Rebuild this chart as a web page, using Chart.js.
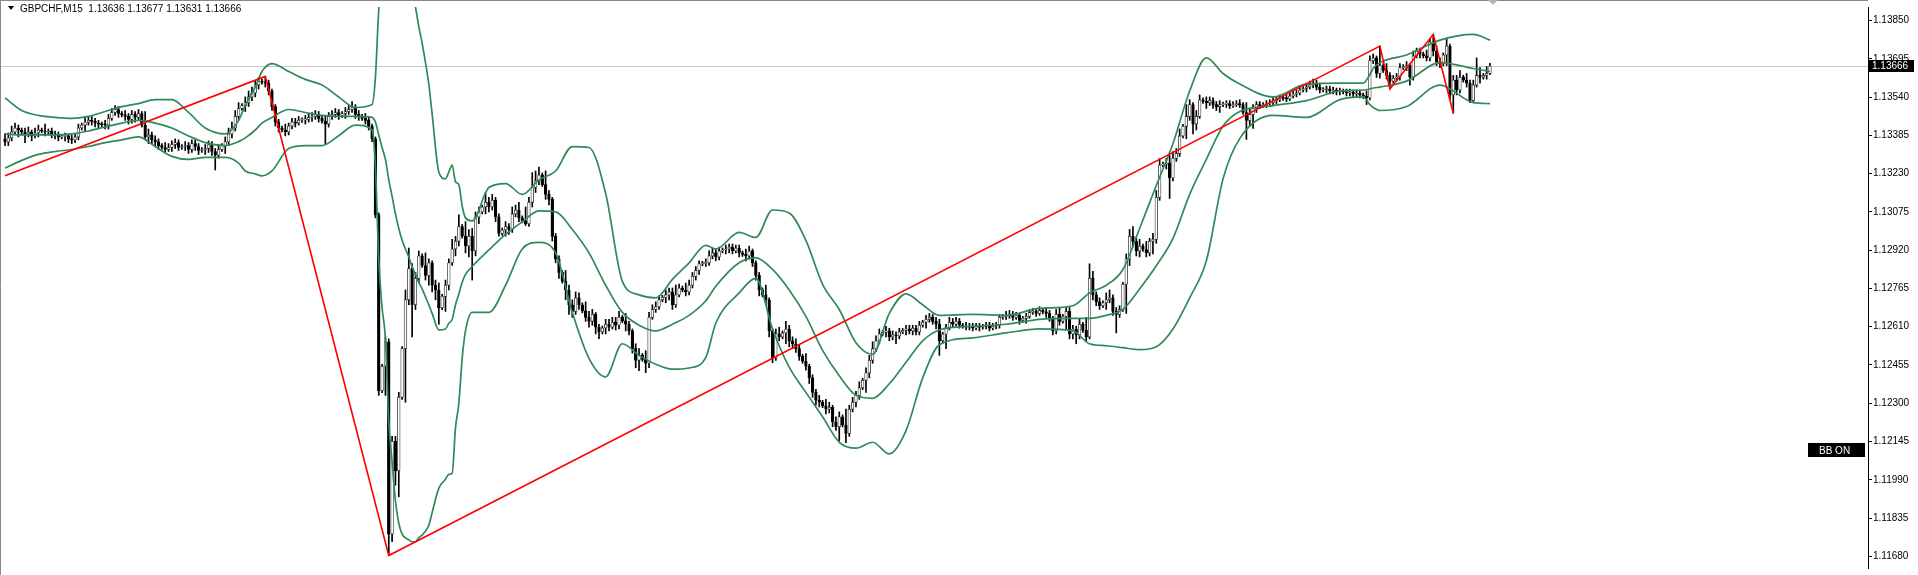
<!DOCTYPE html>
<html><head><meta charset="utf-8">
<script src="https://cdn.jsdelivr.net/npm/chart.js@4/dist/chart.umd.min.js"></script>
<style>html,body{margin:0;padding:0;background:#fff}#wrap{position:relative;width:1918px;height:575px}</style>
</head><body><div id="wrap"><canvas id="c" width="1918" height="575"></canvas></div>
<script>
const title = "GBPCHF,M15  1.13636 1.13677 1.13631 1.13666";
const tickValues = [1.11680,1.11835,1.11990,1.12145,1.12300,1.12455,1.12610,1.12765,1.12920,1.13075,1.13230,1.13385,1.13540,1.13695,1.13850];
const lastPrice = 1.13666;
const closeP = [
1.13359,1.13375,1.13399,1.13415,1.13407,1.13399,1.13391,1.13399,1.13383,1.13395,1.13407,1.13403,
1.13399,1.13403,1.13391,1.13387,1.13379,1.13381,1.13383,1.13371,1.13367,1.13379,1.13415,1.13427,
1.13439,1.13446,1.13442,1.13435,1.13431,1.13429,1.13427,1.13454,1.13478,1.13490,1.13474,1.13468,
1.13462,1.13450,1.13470,1.13458,1.13474,1.13427,1.13379,1.13387,1.13367,1.13359,1.13344,1.13336,
1.13328,1.13336,1.13348,1.13356,1.13336,1.13340,1.13344,1.13328,1.13352,1.13340,1.13324,1.13328,
1.13332,1.13348,1.13320,1.13305,1.13328,1.13344,1.13359,1.13391,1.13415,1.13462,1.13494,1.13506,
1.13518,1.13541,1.13557,1.13589,1.13605,1.13601,1.13597,1.13565,1.13502,1.13439,1.13415,1.13407,
1.13399,1.13423,1.13439,1.13435,1.13446,1.13448,1.13450,1.13458,1.13462,1.13470,1.13454,1.13443,
1.13431,1.13462,1.13470,1.13478,1.13466,1.13474,1.13482,1.13490,1.13498,1.13470,1.13462,1.13454,
1.13446,1.13423,1.13371,1.13063,1.12351,1.12450,1.12549,1.11770,1.12146,1.12027,1.12324,1.12522,
1.12719,1.12846,1.12699,1.12806,1.12897,1.12858,1.12818,1.12869,1.12778,1.12759,1.12687,1.12733,
1.12778,1.12869,1.12925,1.12956,1.13016,1.12977,1.12937,1.12976,1.12917,1.13055,1.13075,1.13095,
1.13114,1.13095,1.13122,1.13055,1.12988,1.13002,1.13016,1.13004,1.13067,1.13083,1.13051,1.13039,
1.13027,1.13114,1.13174,1.13201,1.13225,1.13186,1.13146,1.13126,1.12976,1.12885,1.12830,1.12795,
1.12759,1.12699,1.12672,1.12727,1.12699,1.12674,1.12648,1.12632,1.12660,1.12608,1.12589,1.12605,
1.12620,1.12608,1.12628,1.12616,1.12648,1.12634,1.12620,1.12593,1.12521,1.12474,1.12494,1.12478,
1.12462,1.12648,1.12680,1.12691,1.12719,1.12729,1.12739,1.12751,1.12699,1.12739,1.12767,1.12759,
1.12751,1.12778,1.12814,1.12838,1.12865,1.12867,1.12869,1.12897,1.12909,1.12893,1.12917,1.12921,
1.12925,1.12933,1.12917,1.12929,1.12909,1.12903,1.12897,1.12917,1.12869,1.12818,1.12759,1.12739,
1.12719,1.12593,1.12482,1.12581,1.12569,1.12585,1.12601,1.12553,1.12541,1.12521,1.12490,1.12470,
1.12450,1.12403,1.12344,1.12312,1.12304,1.12290,1.12276,1.12284,1.12225,1.12205,1.12245,1.12212,
1.12178,1.12276,1.12304,1.12332,1.12363,1.12393,1.12423,1.12474,1.12521,1.12553,1.12581,1.12587,
1.12593,1.12569,1.12577,1.12573,1.12589,1.12595,1.12601,1.12593,1.12604,1.12589,1.12616,1.12628,
1.12640,1.12648,1.12632,1.12620,1.12553,1.12580,1.12608,1.12628,1.12620,1.12632,1.12616,1.12612,
1.12608,1.12612,1.12604,1.12612,1.12608,1.12612,1.12616,1.12604,1.12612,1.12616,1.12648,1.12652,
1.12656,1.12660,1.12648,1.12656,1.12636,1.12644,1.12652,1.12668,1.12672,1.12664,1.12676,1.12670,
1.12664,1.12644,1.12593,1.12660,1.12632,1.12652,1.12672,1.12581,1.12601,1.12577,1.12620,1.12595,
1.12569,1.12806,1.12739,1.12711,1.12695,1.12707,1.12719,1.12727,1.12672,1.12660,1.12680,1.12782,
1.12885,1.12976,1.12956,1.12917,1.12937,1.12923,1.12909,1.12956,1.12964,1.13134,1.13265,1.13269,
1.13273,1.13213,1.13292,1.13312,1.13383,1.13422,1.13462,1.13510,1.13431,1.13462,1.13529,1.13523,
1.13518,1.13526,1.13510,1.13502,1.13510,1.13512,1.13514,1.13506,1.13510,1.13514,1.13510,1.13478,
1.13446,1.13470,1.13494,1.13510,1.13506,1.13510,1.13514,1.13518,1.13526,1.13529,1.13537,1.13535,
1.13533,1.13545,1.13553,1.13557,1.13569,1.13575,1.13581,1.13589,1.13597,1.13581,1.13569,1.13571,
1.13573,1.13565,1.13569,1.13561,1.13565,1.13561,1.13557,1.13561,1.13553,1.13557,1.13549,1.13543,
1.13537,1.13688,1.13699,1.13636,1.13668,1.13648,1.13628,1.13605,1.13617,1.13621,1.13660,1.13664,
1.13668,1.13621,1.13707,1.13727,1.13715,1.13707,1.13699,1.13763,1.13727,1.13684,1.13676,1.13711,
1.13747,1.13549,1.13609,1.13569,1.13621,1.13609,1.13597,1.13526,1.13589,1.13628,1.13621,1.13628,
1.13636,1.13666];
const openP = [
1.13371,1.13359,1.13375,1.13399,1.13415,1.13407,1.13399,1.13391,1.13399,1.13383,1.13395,1.13407,
1.13403,1.13399,1.13403,1.13391,1.13387,1.13379,1.13381,1.13383,1.13371,1.13367,1.13379,1.13415,
1.13427,1.13439,1.13446,1.13442,1.13435,1.13431,1.13429,1.13427,1.13454,1.13478,1.13490,1.13474,
1.13468,1.13462,1.13450,1.13470,1.13458,1.13474,1.13427,1.13379,1.13387,1.13367,1.13359,1.13344,
1.13336,1.13328,1.13336,1.13348,1.13356,1.13336,1.13340,1.13344,1.13328,1.13352,1.13340,1.13324,
1.13328,1.13332,1.13348,1.13320,1.13305,1.13328,1.13344,1.13359,1.13391,1.13415,1.13462,1.13494,
1.13506,1.13518,1.13541,1.13557,1.13589,1.13605,1.13601,1.13597,1.13565,1.13502,1.13439,1.13415,
1.13407,1.13399,1.13423,1.13439,1.13435,1.13446,1.13448,1.13450,1.13458,1.13462,1.13470,1.13454,
1.13443,1.13431,1.13462,1.13470,1.13478,1.13466,1.13474,1.13482,1.13490,1.13498,1.13470,1.13462,
1.13454,1.13446,1.13423,1.13371,1.13063,1.12351,1.12450,1.12549,1.11770,1.12146,1.12027,1.12324,
1.12522,1.12719,1.12846,1.12699,1.12806,1.12897,1.12858,1.12818,1.12869,1.12778,1.12759,1.12687,
1.12733,1.12778,1.12869,1.12925,1.12956,1.13016,1.12977,1.12937,1.12976,1.12917,1.13055,1.13075,
1.13095,1.13114,1.13095,1.13122,1.13055,1.12988,1.13002,1.13016,1.13004,1.13067,1.13083,1.13051,
1.13039,1.13027,1.13114,1.13174,1.13201,1.13225,1.13186,1.13146,1.13126,1.12976,1.12885,1.12830,
1.12795,1.12759,1.12699,1.12672,1.12727,1.12699,1.12674,1.12648,1.12632,1.12660,1.12608,1.12589,
1.12605,1.12620,1.12608,1.12628,1.12616,1.12648,1.12634,1.12620,1.12593,1.12521,1.12474,1.12494,
1.12478,1.12462,1.12648,1.12680,1.12691,1.12719,1.12729,1.12739,1.12751,1.12699,1.12739,1.12767,
1.12759,1.12751,1.12778,1.12814,1.12838,1.12865,1.12867,1.12869,1.12897,1.12909,1.12893,1.12917,
1.12921,1.12925,1.12933,1.12917,1.12929,1.12909,1.12903,1.12897,1.12917,1.12869,1.12818,1.12759,
1.12739,1.12719,1.12593,1.12482,1.12581,1.12569,1.12585,1.12601,1.12553,1.12541,1.12521,1.12490,
1.12470,1.12450,1.12403,1.12344,1.12312,1.12304,1.12290,1.12276,1.12284,1.12225,1.12205,1.12245,
1.12212,1.12178,1.12276,1.12304,1.12332,1.12363,1.12393,1.12423,1.12474,1.12521,1.12553,1.12581,
1.12587,1.12593,1.12569,1.12577,1.12573,1.12589,1.12595,1.12601,1.12593,1.12604,1.12589,1.12616,
1.12628,1.12640,1.12648,1.12632,1.12620,1.12553,1.12580,1.12608,1.12628,1.12620,1.12632,1.12616,
1.12612,1.12608,1.12612,1.12604,1.12612,1.12608,1.12612,1.12616,1.12604,1.12612,1.12616,1.12648,
1.12652,1.12656,1.12660,1.12648,1.12656,1.12636,1.12644,1.12652,1.12668,1.12672,1.12664,1.12676,
1.12670,1.12664,1.12644,1.12593,1.12660,1.12632,1.12652,1.12672,1.12581,1.12601,1.12577,1.12620,
1.12595,1.12569,1.12806,1.12739,1.12711,1.12695,1.12707,1.12719,1.12727,1.12672,1.12660,1.12680,
1.12782,1.12885,1.12976,1.12956,1.12917,1.12937,1.12923,1.12909,1.12956,1.12964,1.13134,1.13265,
1.13269,1.13273,1.13213,1.13292,1.13312,1.13383,1.13422,1.13462,1.13510,1.13431,1.13462,1.13529,
1.13523,1.13518,1.13526,1.13510,1.13502,1.13510,1.13512,1.13514,1.13506,1.13510,1.13514,1.13510,
1.13478,1.13446,1.13470,1.13494,1.13510,1.13506,1.13510,1.13514,1.13518,1.13526,1.13529,1.13537,
1.13535,1.13533,1.13545,1.13553,1.13557,1.13569,1.13575,1.13581,1.13589,1.13597,1.13581,1.13569,
1.13571,1.13573,1.13565,1.13569,1.13561,1.13565,1.13561,1.13557,1.13561,1.13553,1.13557,1.13549,
1.13543,1.13537,1.13688,1.13699,1.13636,1.13668,1.13648,1.13628,1.13605,1.13617,1.13621,1.13660,
1.13664,1.13668,1.13621,1.13707,1.13727,1.13715,1.13707,1.13699,1.13763,1.13727,1.13684,1.13676,
1.13711,1.13747,1.13549,1.13609,1.13569,1.13621,1.13609,1.13597,1.13526,1.13589,1.13628,1.13621,
1.13628,1.13636];
const highP = [
1.13391,1.13395,1.13423,1.13435,1.13427,1.13415,1.13415,1.13419,1.13407,1.13415,1.13427,1.13415,
1.13431,1.13411,1.13415,1.13403,1.13399,1.13389,1.13395,1.13391,1.13387,1.13391,1.13431,1.13435,
1.13458,1.13462,1.13462,1.13454,1.13446,1.13439,1.13446,1.13470,1.13494,1.13506,1.13502,1.13482,
1.13486,1.13474,1.13486,1.13482,1.13490,1.13482,1.13482,1.13411,1.13399,1.13383,1.13371,1.13352,
1.13356,1.13352,1.13363,1.13371,1.13367,1.13348,1.13360,1.13356,1.13367,1.13367,1.13352,1.13336,
1.13348,1.13363,1.13360,1.13332,1.13348,1.13352,1.13379,1.13415,1.13439,1.13486,1.13518,1.13514,
1.13541,1.13565,1.13581,1.13605,1.13620,1.13613,1.13624,1.13609,1.13573,1.13510,1.13450,1.13423,
1.13431,1.13435,1.13454,1.13454,1.13462,1.13456,1.13466,1.13474,1.13478,1.13486,1.13482,1.13462,
1.13466,1.13478,1.13486,1.13494,1.13490,1.13482,1.13498,1.13506,1.13522,1.13510,1.13486,1.13470,
1.13474,1.13458,1.13431,1.13379,1.13071,1.12458,1.12569,1.12561,1.12166,1.12166,1.12344,1.12530,
1.12759,1.12929,1.12866,1.12830,1.12917,1.12905,1.12909,1.12885,1.12877,1.12799,1.12787,1.12741,
1.12799,1.12885,1.12964,1.12976,1.13063,1.13024,1.13036,1.13004,1.13008,1.13075,1.13095,1.13103,
1.13154,1.13134,1.13146,1.13134,1.13067,1.13010,1.13036,1.13028,1.13095,1.13103,1.13114,1.13059,
1.13095,1.13134,1.13234,1.13241,1.13257,1.13233,1.13241,1.13162,1.13134,1.12988,1.12897,1.12838,
1.12838,1.12779,1.12719,1.12751,1.12747,1.12707,1.12711,1.12672,1.12680,1.12668,1.12620,1.12613,
1.12640,1.12640,1.12648,1.12648,1.12672,1.12656,1.12664,1.12632,1.12601,1.12541,1.12521,1.12502,
1.12513,1.12668,1.12699,1.12711,1.12735,1.12737,1.12759,1.12767,1.12767,1.12779,1.12783,1.12775,
1.12787,1.12799,1.12830,1.12854,1.12877,1.12875,1.12885,1.12917,1.12929,1.12925,1.12933,1.12929,
1.12941,1.12945,1.12945,1.12941,1.12941,1.12917,1.12925,1.12937,1.12925,1.12877,1.12830,1.12767,
1.12779,1.12727,1.12601,1.12601,1.12608,1.12593,1.12632,1.12616,1.12569,1.12561,1.12537,1.12498,
1.12501,1.12458,1.12415,1.12356,1.12332,1.12312,1.12316,1.12304,1.12292,1.12245,1.12265,1.12253,
1.12276,1.12292,1.12324,1.12348,1.12387,1.12401,1.12444,1.12494,1.12549,1.12573,1.12601,1.12595,
1.12612,1.12604,1.12593,1.12589,1.12604,1.12603,1.12616,1.12616,1.12616,1.12616,1.12632,1.12636,
1.12656,1.12664,1.12660,1.12648,1.12640,1.12588,1.12620,1.12648,1.12644,1.12648,1.12644,1.12624,
1.12628,1.12624,1.12624,1.12624,1.12624,1.12620,1.12628,1.12628,1.12624,1.12628,1.12660,1.12660,
1.12672,1.12676,1.12672,1.12668,1.12664,1.12652,1.12664,1.12680,1.12684,1.12684,1.12691,1.12684,
1.12688,1.12676,1.12652,1.12680,1.12688,1.12660,1.12688,1.12688,1.12616,1.12612,1.12640,1.12628,
1.12648,1.12865,1.12834,1.12751,1.12727,1.12715,1.12747,1.12759,1.12739,1.12688,1.12695,1.12790,
1.12905,1.13004,1.13016,1.12972,1.12964,1.12945,1.12956,1.12968,1.12988,1.13162,1.13292,1.13277,
1.13292,1.13304,1.13320,1.13332,1.13411,1.13430,1.13510,1.13530,1.13518,1.13486,1.13549,1.13537,
1.13541,1.13541,1.13537,1.13522,1.13526,1.13520,1.13526,1.13526,1.13522,1.13526,1.13530,1.13518,
1.13518,1.13494,1.13510,1.13522,1.13522,1.13518,1.13526,1.13530,1.13537,1.13541,1.13549,1.13545,
1.13549,1.13557,1.13569,1.13569,1.13581,1.13583,1.13597,1.13605,1.13613,1.13609,1.13593,1.13579,
1.13585,1.13585,1.13581,1.13577,1.13577,1.13573,1.13573,1.13573,1.13569,1.13569,1.13569,1.13557,
1.13565,1.13707,1.13715,1.13707,1.13747,1.13676,1.13676,1.13640,1.13628,1.13636,1.13676,1.13672,
1.13684,1.13676,1.13727,1.13739,1.13739,1.13723,1.13731,1.13775,1.13794,1.13747,1.13699,1.13719,
1.13775,1.13755,1.13628,1.13628,1.13648,1.13629,1.13636,1.13609,1.13609,1.13699,1.13660,1.13636,
1.13664,1.13677];
const lowP = [
1.13344,1.13344,1.13363,1.13391,1.13379,1.13391,1.13356,1.13379,1.13363,1.13375,1.13379,1.13395,
1.13383,1.13387,1.13375,1.13371,1.13363,1.13371,1.13363,1.13356,1.13352,1.13356,1.13367,1.13407,
1.13403,1.13427,1.13427,1.13419,1.13415,1.13421,1.13411,1.13411,1.13446,1.13466,1.13458,1.13460,
1.13446,1.13431,1.13435,1.13439,1.13446,1.13419,1.13367,1.13352,1.13352,1.13340,1.13328,1.13328,
1.13316,1.13320,1.13320,1.13332,1.13324,1.13328,1.13324,1.13312,1.13316,1.13324,1.13308,1.13316,
1.13308,1.13316,1.13304,1.13245,1.13293,1.13320,1.13312,1.13344,1.13375,1.13403,1.13446,1.13486,
1.13482,1.13502,1.13526,1.13541,1.13573,1.13593,1.13581,1.13549,1.13486,1.13423,1.13399,1.13399,
1.13383,1.13387,1.13411,1.13419,1.13427,1.13438,1.13431,1.13439,1.13442,1.13450,1.13439,1.13435,
1.13352,1.13419,1.13450,1.13458,1.13450,1.13458,1.13454,1.13470,1.13478,1.13454,1.13446,1.13446,
1.13431,1.13407,1.13360,1.13051,1.12332,1.12343,1.12332,1.11683,1.11739,1.11968,1.11921,1.12316,
1.12304,1.12699,1.12569,1.12680,1.12790,1.12850,1.12799,1.12778,1.12751,1.12719,1.12620,1.12679,
1.12672,1.12759,1.12858,1.12897,1.12937,1.12969,1.12909,1.12893,1.12799,1.12897,1.13028,1.13067,
1.13067,1.13075,1.13083,1.13036,1.12977,1.12980,1.12977,1.12984,1.12992,1.13055,1.13036,1.13031,
1.13020,1.13016,1.13095,1.13154,1.13186,1.13178,1.13126,1.13103,1.12957,1.12869,1.12806,1.12787,
1.12719,1.12660,1.12648,1.12660,1.12680,1.12666,1.12632,1.12608,1.12616,1.12581,1.12562,1.12581,
1.12581,1.12593,1.12601,1.12597,1.12601,1.12626,1.12593,1.12577,1.12503,1.12444,1.12432,1.12470,
1.12424,1.12444,1.12640,1.12668,1.12680,1.12711,1.12707,1.12719,1.12680,1.12688,1.12731,1.12751,
1.12735,1.12739,1.12767,1.12799,1.12822,1.12857,1.12854,1.12858,1.12885,1.12877,1.12881,1.12909,
1.12905,1.12909,1.12905,1.12909,1.12893,1.12895,1.12877,1.12885,1.12854,1.12799,1.12735,1.12731,
1.12699,1.12569,1.12464,1.12474,1.12553,1.12561,1.12541,1.12529,1.12521,1.12506,1.12474,1.12462,
1.12434,1.12380,1.12324,1.12292,1.12285,1.12282,1.12257,1.12261,1.12205,1.12190,1.12148,1.12204,
1.12140,1.12166,1.12265,1.12285,1.12316,1.12355,1.12344,1.12403,1.12462,1.12509,1.12541,1.12573,
1.12569,1.12553,1.12557,1.12541,1.12561,1.12581,1.12577,1.12581,1.12577,1.12577,1.12577,1.12608,
1.12604,1.12628,1.12620,1.12601,1.12494,1.12545,1.12521,1.12597,1.12608,1.12612,1.12604,1.12604,
1.12597,1.12597,1.12593,1.12597,1.12593,1.12600,1.12601,1.12593,1.12597,1.12601,1.12604,1.12640,
1.12640,1.12644,1.12636,1.12640,1.12620,1.12628,1.12624,1.12644,1.12660,1.12652,1.12656,1.12662,
1.12648,1.12632,1.12577,1.12581,1.12616,1.12624,1.12601,1.12561,1.12561,1.12541,1.12561,1.12587,
1.12553,1.12561,1.12719,1.12695,1.12680,1.12687,1.12680,1.12707,1.12656,1.12585,1.12648,1.12672,
1.12664,1.12858,1.12933,1.12897,1.12893,1.12915,1.12893,1.12897,1.12905,1.12948,1.13122,1.13257,
1.13249,1.13130,1.13201,1.13280,1.13300,1.13375,1.13372,1.13446,1.13391,1.13407,1.13454,1.13515,
1.13494,1.13506,1.13494,1.13486,1.13478,1.13502,1.13498,1.13494,1.13498,1.13502,1.13498,1.13470,
1.13369,1.13423,1.13413,1.13478,1.13494,1.13498,1.13498,1.13502,1.13510,1.13514,1.13522,1.13527,
1.13522,1.13526,1.13537,1.13541,1.13549,1.13561,1.13561,1.13573,1.13577,1.13569,1.13557,1.13561,
1.13557,1.13553,1.13553,1.13549,1.13549,1.13553,1.13545,1.13545,1.13541,1.13541,1.13537,1.13535,
1.13510,1.13529,1.13676,1.13620,1.13617,1.13640,1.13613,1.13573,1.13597,1.13605,1.13609,1.13652,
1.13648,1.13589,1.13609,1.13699,1.13699,1.13699,1.13687,1.13687,1.13707,1.13668,1.13660,1.13668,
1.13668,1.13530,1.13475,1.13549,1.13557,1.13601,1.13581,1.13518,1.13522,1.13581,1.13597,1.13613,
1.13613,1.13631];
const bbIndex = [0,5,10,15,20,25,30,35,40,45,50,55,60,66,70,72,75,77,80,85,90,95,100,105,110,111,112,113,114,115,
116,117,118,119,120,121,122,123,124,125,126,127,128,130,132,133,134,135,136,137,138,140,145,150,155,160,165,170,175,180,
185,190,195,200,205,210,213,220,225,230,235,240,245,250,255,260,265,270,275,280,290,300,310,320,325,330,335,340,345,350,
355,360,365,370,380,390,400,407,409,410,412,420,430,440,445];
const bbUpper = [1.13537,1.13486,1.13466,1.13458,1.13454,1.13462,1.13482,1.13502,1.13514,1.13530,
1.13530,1.13478,1.13415,1.13391,1.13446,1.13506,1.13581,1.13644,1.13676,1.13644,
1.13612,1.13589,1.13541,1.13498,1.13510,1.13620,1.13893,1.13984,1.14016,1.14186,
1.14213,1.14229,1.14201,1.14150,1.14095,1.14039,1.13968,1.13905,1.13826,1.13759,
1.13680,1.13593,1.13471,1.13237,1.13209,1.13237,1.13265,1.13197,1.13186,1.13099,
1.13051,1.13039,1.13174,1.13190,1.13146,1.13205,1.13241,1.13340,1.13336,1.13150,
1.12794,1.12739,1.12727,1.12802,1.12869,1.12940,1.12925,1.12992,1.12972,1.13083,
1.13071,1.12960,1.12782,1.12680,1.12545,1.12498,1.12664,1.12743,1.12699,1.12656,
1.12660,1.12656,1.12684,1.12695,1.12747,1.12778,1.12842,1.13008,1.13182,1.13352,
1.13565,1.13699,1.13636,1.13593,1.13541,1.13593,1.13597,1.13597,1.13632,1.13656,
1.13680,1.13711,1.13771,1.13794,1.13771];
const bbMiddle = [1.13391,1.13387,1.13387,1.13387,1.13391,1.13403,1.13419,1.13435,1.13446,1.13435,
1.13415,1.13383,1.13356,1.13344,1.13360,1.13375,1.13407,1.13435,1.13458,1.13490,
1.13478,1.13466,1.13462,1.13462,1.13458,1.13439,1.13387,1.13336,1.13288,1.13205,
1.13138,1.13067,1.13008,1.12960,1.12925,1.12893,1.12854,1.12822,1.12790,1.12763,
1.12731,1.12699,1.12664,1.12597,1.12601,1.12624,1.12640,1.12699,1.12743,1.12790,
1.12822,1.12854,1.12921,1.12984,1.13035,1.13079,1.13075,1.13004,1.12909,1.12778,
1.12668,1.12616,1.12593,1.12620,1.12656,1.12715,1.12774,1.12869,1.12889,1.12842,
1.12759,1.12652,1.12514,1.12411,1.12332,1.12320,1.12379,1.12466,1.12553,1.12597,
1.12612,1.12620,1.12640,1.12644,1.12644,1.12656,1.12680,1.12763,1.12857,1.12968,
1.13146,1.13288,1.13423,1.13482,1.13506,1.13526,1.13565,1.13569,1.13573,1.13577,
1.13581,1.13605,1.13680,1.13656,1.13644];
const bbLower = [1.13253,1.13284,1.13308,1.13320,1.13328,1.13340,1.13356,1.13367,1.13379,1.13340,
1.13300,1.13288,1.13296,1.13296,1.13273,1.13241,1.13229,1.13221,1.13241,1.13332,
1.13344,1.13344,1.13384,1.13427,1.13407,1.13261,1.12881,1.12687,1.12561,1.12225,
1.12063,1.11905,1.11814,1.11770,1.11755,1.11747,1.11739,1.11739,1.11755,1.11766,
1.11782,1.11806,1.11857,1.11956,1.11992,1.12012,1.12016,1.12201,1.12300,1.12482,
1.12593,1.12668,1.12668,1.12778,1.12925,1.12952,1.12909,1.12668,1.12482,1.12407,
1.12541,1.12494,1.12458,1.12438,1.12443,1.12486,1.12624,1.12747,1.12806,1.12601,
1.12446,1.12344,1.12245,1.12142,1.12118,1.12142,1.12095,1.12189,1.12403,1.12537,
1.12565,1.12585,1.12601,1.12593,1.12541,1.12533,1.12525,1.12517,1.12529,1.12601,
1.12727,1.12877,1.13209,1.13372,1.13466,1.13458,1.13530,1.13541,1.13510,1.13498,
1.13486,1.13502,1.13589,1.13518,1.13514];
const zzIndex = [0, 78, 115, 412, 415, 428, 434];
const zzPrice = [1.13222, 1.13624, 1.11683, 1.13747, 1.13573, 1.13794, 1.13475];
const N = closeP.length;
const SP = (1490-5)/(N-1);
const xmin = -5/SP, xmax = xmin + 1868/SP;
const ctx = document.getElementById('c').getContext('2d');
const frame = {
  id:'frame',
  beforeDatasetsDraw(chart){
    const c = chart.ctx, y = chart.scales.y, a = chart.chartArea;
    const py = Math.round(y.getPixelForValue(lastPrice))+0.5;
    c.save(); c.strokeStyle='#c8c8c8'; c.lineWidth=1;
    c.beginPath(); c.moveTo(0,py); c.lineTo(a.right,py); c.stroke(); c.restore();
  },
  afterDraw(chart){
    const c = chart.ctx, y = chart.scales.y, a = chart.chartArea;
    c.save();
    c.strokeStyle='#888'; c.lineWidth=1;
    c.beginPath(); c.moveTo(0,0.5); c.lineTo(a.right,0.5); c.stroke();
    c.beginPath(); c.moveTo(0.5,0); c.lineTo(0.5,575); c.stroke();
    const py = Math.round(y.getPixelForValue(lastPrice));
    c.fillStyle='#000'; c.fillRect(a.right+1, py-6, 45, 12);
    c.fillStyle='#fff'; c.font='10px "Liberation Sans"'; c.textBaseline='middle';
    c.fillText(lastPrice.toFixed(5), a.right+4, py+0.5);
    c.fillStyle='#000';
    c.beginPath(); c.moveTo(8,6); c.lineTo(14,6); c.lineTo(11,10); c.closePath(); c.fill();
    c.textBaseline='alphabetic';
    c.fillText(title, 20, 12);
    c.fillRect(1808,443,57,14);
    c.fillStyle='#fff'; c.fillText('BB ON', 1819, 454);
    c.fillStyle='#b4b4b4'; c.beginPath(); c.moveTo(1488,0); c.lineTo(1498,0); c.lineTo(1493,5); c.closePath(); c.fill();
    c.restore();
  }
};
const isUp = j => closeP[j] >= openP[j];
const bbStyle = {type:'line', borderColor:'#2f8a57', borderWidth:1.7, pointRadius:0, cubicInterpolationMode:'monotone', order:1};
new Chart(ctx,{
  type:'bar',
  data:{datasets:[
    Object.assign({label:'BB upper', data: bbIndex.map((v,i)=>({x:v,y:bbUpper[i]}))}, bbStyle),
    Object.assign({label:'BB middle', data: bbIndex.map((v,i)=>({x:v,y:bbMiddle[i]}))}, bbStyle),
    Object.assign({label:'BB lower', data: bbIndex.map((v,i)=>({x:v,y:bbLower[i]}))}, bbStyle),
    { type:'line', label:'ZigZag', order:0, data: zzIndex.map((v,i)=>({x:v,y:zzPrice[i]})),
      borderColor:'#ff0000', borderWidth:1.6, pointRadius:0, tension:0 },
    { label:'wick', order:3, grouped:false, barThickness:1,
      data: highP.map((h,j)=>({x:j, y:[lowP[j], h]})), backgroundColor:'#000', borderWidth:0 },
    { label:'body', order:2, grouped:false, barThickness:2.7, minBarLength:1,
      data: closeP.map((cl,j)=>({x:j, y:[openP[j], cl]})),
      backgroundColor: c => isUp(c.dataIndex) ? '#ffffff' : '#000000',
      borderColor: c => isUp(c.dataIndex) ? '#333333' : '#000000', borderWidth:0.8, borderSkipped:false }
  ]},
  options:{
    responsive:false, animation:false, devicePixelRatio:1,
    layout:{padding:{left:0,right:0,top:0,bottom:0}},
    plugins:{legend:{display:false}, tooltip:{enabled:false}},
    scales:{
      x:{type:'linear', display:false, min:xmin, max:xmax, offset:false},
      y:{position:'right', min:1.116326, max:1.139053,
        afterBuildTicks(s){ s.ticks = tickValues.map(v=>({value:v})); },
        afterFit(s){ s.width = 50; },
        border:{display:true, color:'#000'},
        grid:{drawOnChartArea:false, tickLength:4, color:'#000'},
        ticks:{color:'#000', padding:1, font:{family:'Liberation Sans', size:10}, callback:v=>Number(v).toFixed(5)}
      }
    }
  },
  plugins:[frame]
});
</script></body></html>
